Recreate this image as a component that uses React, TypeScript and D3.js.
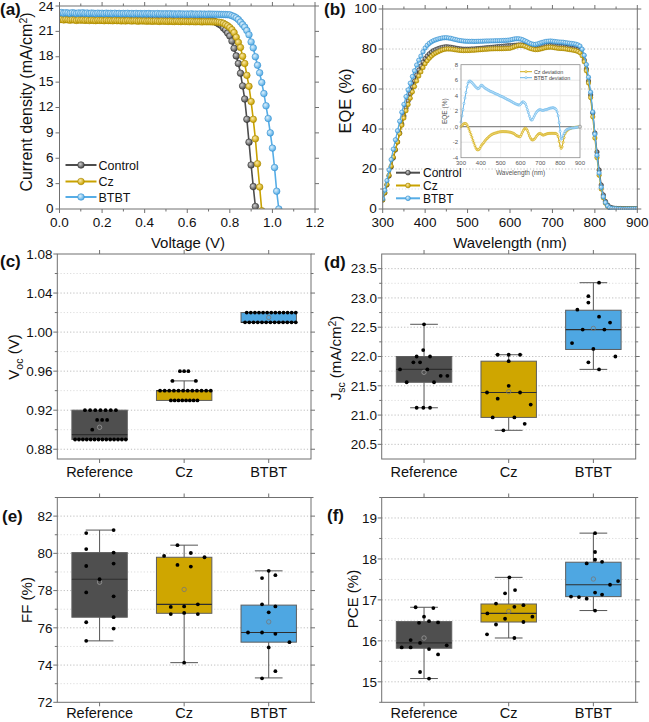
import React from "react";
import * as d3 from "d3";

const FONT = "'Liberation Sans', Arial, Helvetica, sans-serif";

// ---------------- (a) J–V curves (J in mA/cm², voltage grid step 0.01 V from 0) ----------------
const voltageStep = 0.01;
const jvControl = [
  22.58, 22.62, 22.55, 22.6, 22.57, 22.53, 22.6, 22.56, 22.52, 22.58,
  22.55, 22.5, 22.57, 22.54, 22.59, 22.52, 22.55, 22.5, 22.56, 22.53,
  22.5, 22.55, 22.52, 22.48, 22.54, 22.5, 22.53, 22.49, 22.55, 22.5,
  22.52, 22.47, 22.5, 22.54, 22.49, 22.51, 22.46, 22.52, 22.48, 22.5,
  22.47, 22.52, 22.48, 22.45, 22.5, 22.47, 22.5, 22.44, 22.49, 22.46,
  22.48, 22.45, 22.5, 22.46, 22.44, 22.48, 22.45, 22.47, 22.43, 22.46,
  22.45, 22.42, 22.46, 22.44, 22.41, 22.45, 22.43, 22.4, 22.42, 22.4,
  22.38, 22.33, 22.25, 22.15, 22.0, 21.85, 21.7, 21.4, 21.15, 20.8,
  20.45, 19.85, 19.0, 18.1, 17.2, 16.05, 14.55, 13.0, 10.6, 7.9,
  5.2, 2.65, 0.3,
];
const jvCz = [
  22.38, 22.42, 22.35, 22.4, 22.36, 22.33, 22.38, 22.34, 22.3, 22.36,
  22.32, 22.35, 22.3, 22.34, 22.28, 22.33, 22.3, 22.27, 22.32, 22.29,
  22.3, 22.26, 22.31, 22.27, 22.29, 22.25, 22.3, 22.26, 22.28, 22.24,
  22.27, 22.23, 22.28, 22.25, 22.22, 22.26, 22.24, 22.21, 22.25, 22.22,
  22.24, 22.2, 22.23, 22.21, 22.19, 22.23, 22.2, 22.18, 22.22, 22.19,
  22.2, 22.17, 22.21, 22.18, 22.16, 22.2, 22.17, 22.15, 22.19, 22.16,
  22.17, 22.14, 22.18, 22.15, 22.13, 22.16, 22.14, 22.12, 22.15, 22.13,
  22.14, 22.13, 22.12, 22.12, 22.1, 22.08, 22.03, 21.95, 21.8, 21.65,
  21.45, 21.2, 20.85, 20.3, 19.7, 19.1, 18.05, 17.2, 15.8, 14.5,
  12.7, 10.6, 8.3, 5.35, 2.6, -0.2,
];
const jvBTBT = [
  23.18, 23.22, 23.15, 23.2, 23.17, 23.13, 23.2, 23.16, 23.12, 23.18,
  23.15, 23.19, 23.13, 23.17, 23.11, 23.16, 23.14, 23.1, 23.15, 23.12,
  23.14, 23.1, 23.15, 23.11, 23.13, 23.09, 23.14, 23.1, 23.12, 23.08,
  23.12, 23.09, 23.13, 23.08, 23.11, 23.07, 23.12, 23.08, 23.1, 23.06,
  23.1, 23.07, 23.11, 23.06, 23.09, 23.05, 23.1, 23.06, 23.08, 23.05,
  23.08, 23.05, 23.09, 23.04, 23.07, 23.03, 23.08, 23.04, 23.06, 23.03,
  23.06, 23.03, 23.07, 23.02, 23.05, 23.02, 23.06, 23.02, 23.04, 23.01,
  23.04, 23.03, 23.03, 23.02, 23.02, 23.01, 23.0, 22.99, 22.98, 22.97,
  22.95, 22.85, 22.75, 22.6, 22.4, 22.1, 21.8, 21.5, 21.1, 20.6,
  19.75, 19.05, 18.0, 17.0, 16.1, 14.95, 13.65, 12.2, 10.7, 9.0,
  7.2, 4.9, 2.1, 0.0,
];

// ---------------- (b) EQE (%) every 5 nm from 300 to 900 nm ----------------
const wlStart = 300;
const wlStep = 5;
const eqeControl = [
  4.5, 8, 12, 16.5, 21, 25.5, 29.5, 33.5, 38, 42.5,
  46.5, 50.5, 54, 57.5, 61, 64, 67, 69.5, 71.5, 73.5,
  75.2, 76.5, 77.6, 78.5, 79.2, 79.7, 80.1, 80.5, 80.8, 81,
  81.1, 81, 80.9, 80.7, 80.5, 80.3, 80.1, 80, 79.9, 79.9,
  79.9, 79.9, 80, 80, 80.1, 80.2, 80.3, 80.4, 80.5, 80.6,
  80.7, 80.8, 80.9, 81, 81.1, 81.2, 81.3, 81.4, 81.5, 81.6,
  81.6, 81.7, 81.8, 81.9, 82, 82, 82, 81.9, 81.8, 81.7,
  81.6, 81.5, 81.4, 81.4, 81.5, 81.6, 81.7, 81.8, 81.8, 81.8,
  81.7, 81.6, 81.5, 81.4, 81.3, 81.2, 81, 80.8, 80.6, 80.4,
  80.2, 80, 79.6, 79, 77.5, 74.5, 70, 64, 57, 48,
  38, 28.5, 19.5, 12, 7, 3.8, 2, 1, 0.6, 0.4,
  0.3, 0.2, 0.2, 0.1, 0.1, 0.1, 0.1, 0.1, 0.1, 0.1,
  0.1,
];
// inset: EQE deviation from the control device (%)
const czDeviation = [
  0.0, 0.15, 0.3, 0.4, 0.43, 0.4, 0.25, 0.0, -0.3, -0.65,
  -1.0, -1.35, -1.75, -2.1, -2.45, -2.75, -2.95, -3.0, -2.95, -2.8,
  -2.55, -2.35, -2.2, -2.05, -1.85, -1.7, -1.55, -1.45, -1.3, -1.2,
  -1.1, -1.0, -0.95, -0.88, -0.85, -0.8, -0.78, -0.72, -0.7, -0.66,
  -0.65, -0.64, -0.63, -0.63, -0.64, -0.64, -0.65, -0.66, -0.68, -0.7,
  -0.72, -0.76, -0.82, -0.86, -0.95, -1.05, -1.15, -1.2, -1.25, -1.3,
  -1.25, -1.0, -0.7, -0.45, -0.25, -0.2, -0.3, -0.5, -0.85, -1.2,
  -1.45, -1.65, -1.72, -1.68, -1.6, -1.45, -1.25, -1.1, -0.95, -0.88,
  -0.88, -0.95, -1.05, -1.1, -1.05, -1.0, -0.95, -0.9, -0.88, -0.86,
  -0.86, -0.86, -0.85, -0.86, -0.86, -0.86, -0.88, -1.0, -1.3, -1.9,
  -2.5, -2.8, -2.6, -2.0, -1.4, -0.9, -0.65, -0.5, -0.4, -0.3,
  -0.25, -0.2, -0.15, -0.12, -0.1, -0.08, -0.06, -0.05, -0.03, -0.02,
  0,
];
const btbtDeviation = [
  0.6, 1.4, 2.2, 3.0, 3.7, 4.4, 5.1, 5.6, 5.85, 5.9,
  5.8, 5.7, 5.55, 5.4, 5.25, 5.1, 5.0, 4.9, 4.95, 5.1,
  5.3, 5.35, 5.25, 5.1, 5.0, 4.9, 4.85, 4.75, 4.7, 4.6,
  4.55, 4.5, 4.45, 4.38, 4.3, 4.25, 4.2, 4.15, 4.08, 4.0,
  3.95, 3.9, 3.85, 3.78, 3.7, 3.65, 3.55, 3.5, 3.45, 3.38,
  3.3, 3.25, 3.15, 3.1, 3.0, 2.95, 2.9, 2.85, 2.8, 2.8,
  2.9, 3.05, 3.2, 3.2, 3.1, 2.95, 2.6, 2.2, 1.8, 1.35,
  1.0, 0.85, 0.9, 1.15, 1.4, 1.65, 1.85, 2.0, 2.1, 2.2,
  2.2, 2.15, 2.1, 2.1, 2.15, 2.2, 2.2, 2.25, 2.3, 2.35,
  2.4, 2.4, 2.45, 2.45, 2.4, 2.35, 2.2, 1.9, 1.4, 0.5,
  -0.6, -1.6, -1.5, -1.15, -0.85, -0.6, -0.45, -0.35, -0.3, -0.25,
  -0.2, -0.2, -0.15, -0.15, -0.15, -0.12, -0.1, -0.08, -0.05, -0.03,
  0,
];
// Cz and BTBT EQE = control + measured deviation (what the inset plots)
const eqeCz = eqeControl.map((v, i) => v + czDeviation[i]);
const eqeBTBT = eqeControl.map((v, i) => v + btbtDeviation[i]);

const seriesNames = ["Control", "Cz", "BTBT"];
const categories = ["Reference", "Cz", "BTBT"];

// ---------------- box statistics: [low whisker, Q1, median, Q3, high whisker, mean] ----------------
const vocBoxes = [
  [0.89, 0.89, 0.895, 0.92, 0.92, 0.9025],
  [0.93, 0.93, 0.94, 0.94, 0.95, NaN],
  [1.01, 1.01, 1.01, 1.02, 1.02, 1.015],
];
// Voc points are stacked in rows: [category, value, count, row centre offset, row half width]
const vocRows = [
  [1, 0.92, 7, 0.01, 0.183],
  [1, 0.91, 3, 0.03, 0.059],
  [1, 0.9, 1, -0.087, 0],
  [1, 0.89, 14, 0.01, 0.3],
  [2, 0.96, 3, 0, 0.05],
  [2, 0.95, 2, 0, 0.138],
  [2, 0.94, 12, 0.015, 0.3],
  [2, 0.93, 8, 0, 0.157],
  [3, 1.02, 13, 0.03, 0.29],
  [3, 1.01, 13, 0.02, 0.3],
];

const jscBoxes = [
  [21.125, 21.56, 21.78, 22.0, 22.55, 21.73],
  [20.74, 20.96, 21.385, 21.92, 22.03, 21.4],
  [21.78, 22.12, 22.46, 22.79, 23.26, 22.48],
];
const jscReference = [
  [1.0, 22.55], [0.99, 22.11], [0.913, 22.0], [1.071, 22.0], [0.874, 21.9],
  [0.953, 21.9], [0.716, 21.78], [1.039, 21.78], [1.197, 21.67], [1.276, 21.67],
  [0.795, 21.56], [1.118, 21.56], [0.913, 21.125], [0.992, 21.125], [1.071, 21.125],
];
const jscCz = [
  [1.87, 22.03], [2.0, 22.03], [2.134, 22.03], [2.0, 21.92], [2.0, 21.5],
  [1.744, 21.385], [2.134, 21.385], [1.87, 21.28], [2.26, 21.18], [1.811, 20.96],
  [2.067, 20.96], [2.189, 20.85], [1.937, 20.74],
];
const jscBTBT = [
  [3.067, 23.26], [2.941, 23.03], [2.941, 22.92], [2.811, 22.8], [3.067, 22.68],
  [3.197, 22.58], [2.748, 22.23], [2.874, 22.46], [3.13, 22.46], [3.0, 22.13],
  [3.26, 22.0], [2.941, 21.9], [3.067, 21.78],
];

const ffBoxes = [
  [75.3, 76.57, 78.61, 80.04, 81.25, 78.45],
  [74.13, 76.78, 77.26, 79.79, 80.44, 78.06],
  [73.31, 75.23, 75.75, 77.22, 79.06, 76.32],
];
const ffReference = [
  [0.842, 81.09], [1.166, 81.25], [0.842, 80.23], [1.166, 80.04], [0.842, 79.32],
  [1.166, 79.45], [1.0, 78.61], [0.842, 77.9], [1.166, 77.69], [1.166, 76.57],
  [0.842, 76.3], [1.166, 75.96], [0.842, 75.3],
];
const ffCz = [
  [1.921, 80.44], [2.079, 80.02], [1.763, 79.86], [2.241, 79.79], [1.921, 79.38],
  [2.079, 79.29], [2.162, 77.26], [1.842, 77.12], [2.0, 77.15], [1.842, 76.74],
  [2.0, 76.8], [2.162, 76.74], [2.0, 74.13],
];
const ffBTBT = [
  [3.0, 79.06], [2.921, 78.67], [3.079, 78.83], [2.921, 77.26], [3.079, 77.15],
  [3.0, 76.83], [2.755, 75.75], [2.921, 75.75], [3.079, 75.68], [3.245, 75.23],
  [3.0, 74.95], [3.079, 73.67], [2.921, 73.29],
];

const pceBoxes = [
  [15.08, 15.82, 15.95, 16.47, 16.82, 16.07],
  [16.07, 16.46, 16.67, 16.9, 17.55, 16.72],
  [16.74, 17.08, 17.37, 17.92, 18.63, 17.51],
];
const pceReference = [
  [0.901, 16.82], [1.11, 16.8], [1.0, 16.59], [0.941, 16.44], [1.059, 16.48],
  [1.166, 16.45], [0.842, 16.02], [0.953, 15.95], [0.736, 15.84], [0.842, 15.84],
  [1.059, 15.8], [1.268, 15.89], [1.166, 15.67], [0.953, 15.24], [1.059, 15.08],
];
const pceCz = [
  [2.008, 17.55], [2.075, 17.24], [1.957, 17.16], [1.85, 16.91], [2.174, 16.87],
  [2.067, 16.83], [1.748, 16.67], [2.28, 16.59], [1.957, 16.54], [2.174, 16.46],
  [1.85, 16.4], [1.744, 16.16], [2.067, 16.07],
];
const pceBTBT = [
  [3.02, 18.63], [3.02, 18.17], [3.02, 17.98], [2.921, 17.89], [3.103, 17.93],
  [3.292, 17.46], [3.197, 17.37], [3.02, 17.18], [3.103, 17.13], [2.736, 17.08],
  [2.83, 17.07], [2.921, 17.03], [3.02, 16.74],
];

// ---------------- styling ----------------
const lineColors = ["#4d4d4d", "#c9a200", "#56ade6"];
const ballEdge = ["#2f2f2f", "#a58400", "#3690d0"];
const ballLight = ["#d0d0d0", "#fbe8a6", "#dcf0fc"];
const boxFill = ["#4f4f4f", "#cfa600", "#4ea7e2"];
const FRAME = "#707070";
const GRID_MAJOR = "#bdbdbd";
const GRID_MINOR = "#dcdcdc";
const TICK_FONT = 13.5;

function Ball({ cx, cy, r, i }: { cx: number; cy: number; r: number; i: number }) {
  return <circle cx={cx} cy={cy} r={r} fill={`url(#ball${i})`} stroke={ballEdge[i]} strokeWidth={0.6} />;
}

function Frame({ l, t, r, b }: { l: number; t: number; r: number; b: number }) {
  return <rect x={l} y={t} width={r - l} height={b - t} fill="none" stroke={FRAME} strokeWidth={1} />;
}

function VTicks({ ys, x, dir, len }: { ys: number[]; x: number; dir: number; len: number }) {
  return (
    <g stroke={FRAME} strokeWidth={1}>
      {ys.map((y, k) => (
        <line key={k} x1={x} x2={x + dir * len} y1={y} y2={y} />
      ))}
    </g>
  );
}
function HTicks({ xs, y, dir, len }: { xs: number[]; y: number; dir: number; len: number }) {
  return (
    <g stroke={FRAME} strokeWidth={1}>
      {xs.map((x, k) => (
        <line key={k} x1={x} x2={x} y1={y} y2={y + dir * len} />
      ))}
    </g>
  );
}

function Tag({ x, y, children }: { x: number; y: number; children: React.ReactNode }) {
  return (
    <text x={x} y={y} fontSize={17} fontWeight="bold" fill="#111">
      {children}
    </text>
  );
}

// ---------------- panel (a) ----------------
function PanelA() {
  const L = 59.5, R = 315, T = 6, B = 209;
  const x = d3.scaleLinear().domain([0, 1.2]).range([L, R]);
  const y = d3.scaleLinear().domain([0, 24]).range([B, T]);
  const series = [jvControl, jvCz, jvBTBT];
  const line = d3
    .line<number>()
    .x((_, i) => x(i * voltageStep))
    .y((d) => y(d));
  const yMajor = d3.range(0, 25, 3);
  const xMajor = d3.range(0, 7).map((k) => k * 0.2);
  const xMinor = d3.range(0, 6).map((k) => k * 0.2 + 0.1);
  const legY = [165, 181.5, 197];
  return (
    <g>
      <clipPath id="clipA">
        <rect x={L} y={T - 4} width={R - L} height={B - T + 4} />
      </clipPath>
      <g clipPath="url(#clipA)">
        {series.map((s, si) => (
          <g key={si}>
            <path d={line(s) || ""} fill="none" stroke={lineColors[si]} strokeWidth={1.6} />
            {s.map((v, i) => (
              <Ball key={i} cx={x(i * voltageStep)} cy={y(v)} r={3.3} i={si} />
            ))}
          </g>
        ))}
      </g>
      <Frame l={L} t={T} r={R} b={B} />
      <VTicks ys={yMajor.map(y)} x={L} dir={-1} len={4} />
      <VTicks ys={yMajor.map(y)} x={R} dir={1} len={4} />
      <HTicks xs={xMajor.map(x)} y={B} dir={1} len={4} />
      <HTicks xs={xMinor.map(x)} y={B} dir={1} len={2.5} />
      <HTicks xs={xMajor.map(x)} y={T} dir={-1} len={4} />
      <HTicks xs={xMinor.map(x)} y={T} dir={-1} len={2.5} />
      {yMajor.map((v) => (
        <text key={v} x={L - 6} y={v === 24 ? y(v) + 0.5 : y(v) - 1} dy="0.35em" textAnchor="end" fontSize={TICK_FONT} fill="#111">
          {v}
        </text>
      ))}
      {xMajor.map((v) => (
        <text key={v} x={x(v)} y={B + 17.5} textAnchor="middle" fontSize={TICK_FONT} fill="#111">
          {v.toFixed(1)}
        </text>
      ))}
      {seriesNames.map((n, si) => (
        <g key={n}>
          <line x1={65.5} x2={96.5} y1={legY[si]} y2={legY[si]} stroke={lineColors[si]} strokeWidth={2} />
          <Ball cx={81} cy={legY[si]} r={3.3} i={si} />
          <text x={98.5} y={legY[si]} dy="0.36em" fontSize={12.5} fill="#111">
            {n}
          </text>
        </g>
      ))}
      <text x={188} y={248} textAnchor="middle" fontSize={15} fill="#111">
        Voltage (V)
      </text>
      <text transform="translate(26,102) rotate(-90)" textAnchor="middle" dy="0.35em" fontSize={16} fill="#111">
        Current density (mA/cm
        <tspan dy={-5} fontSize={10.5}>
          2
        </tspan>
        <tspan dy={5}>)</tspan>
      </text>
      <Tag x={0} y={15}>(a)</Tag>
    </g>
  );
}

// ---------------- panel (b) ----------------
function PanelB() {
  const L = 382.7, R = 637.3, T = 9, B = 209;
  const x = d3.scaleLinear().domain([300, 900]).range([L, R]);
  const y = d3.scaleLinear().domain([0, 100]).range([B, T]);
  const wl = (i: number) => wlStart + i * wlStep;
  const series = [eqeControl, eqeCz, eqeBTBT];
  const line = d3
    .line<number>()
    .x((_, i) => x(wl(i)))
    .y((d) => y(d));
  const yMajor = d3.range(0, 101, 20);
  const yMinor = d3.range(10, 100, 20);
  const xMajor = d3.range(300, 901, 100);
  const xMinor = d3.range(350, 900, 100);
  const legY = [172.7, 185.5, 198.3];

  // inset
  const iL = 461, iR = 580, iT = 64.7, iB = 157.7;
  const xi = d3.scaleLinear().domain([300, 900]).range([iL, iR]);
  const yi = d3.scaleLinear().domain([-4, 8]).range([iB, iT]);
  const iline = d3
    .line<number>()
    .x((_, i) => xi(wl(i)))
    .y((d) => yi(d));
  const inset = [czDeviation, btbtDeviation];
  const insetNames = ["Cz deviation", "BTBT deviation"];
  const yiTicks = d3.range(-4, 9, 2);
  const xiTicks = d3.range(300, 901, 100);
  return (
    <g>
      {yMinor.map((v) => (
        <line key={v} x1={L} x2={R} y1={y(v)} y2={y(v)} stroke={GRID_MINOR} strokeDasharray="1.2 2" />
      ))}
      {yMajor.slice(1, -1).map((v) => (
        <line key={v} x1={L} x2={R} y1={y(v)} y2={y(v)} stroke={GRID_MAJOR} strokeDasharray="1.2 2" />
      ))}
      <clipPath id="clipB">
        <rect x={L} y={T} width={R - L} height={B - T + 1} />
      </clipPath>
      <g clipPath="url(#clipB)">
        {series.map((s, si) => (
          <g key={si}>
            <path d={line(s) || ""} fill="none" stroke={lineColors[si]} strokeWidth={1.3} />
            {s.map((v, i) => (
              <Ball key={i} cx={x(wl(i))} cy={y(v)} r={2.2} i={si} />
            ))}
          </g>
        ))}
      </g>
      <Frame l={L} t={T} r={R} b={B} />
      <VTicks ys={yMajor.map(y)} x={L} dir={-1} len={4} />
      <VTicks ys={yMinor.map(y)} x={L} dir={-1} len={2.5} />
      <VTicks ys={yMajor.map(y)} x={R} dir={1} len={4} />
      <VTicks ys={yMinor.map(y)} x={R} dir={1} len={2.5} />
      <HTicks xs={xMajor.map(x)} y={B} dir={1} len={4} />
      <HTicks xs={xMinor.map(x)} y={B} dir={1} len={2.5} />
      <HTicks xs={xMajor.map(x)} y={T} dir={-1} len={4} />
      <HTicks xs={xMinor.map(x)} y={T} dir={-1} len={2.5} />
      {yMajor.map((v) => (
        <text key={v} x={L - 6} y={y(v) - 1} dy="0.35em" textAnchor="end" fontSize={TICK_FONT} fill="#111">
          {v}
        </text>
      ))}
      {xMajor.map((v) => (
        <text key={v} x={x(v)} y={B + 17.5} textAnchor="middle" fontSize={TICK_FONT} fill="#111">
          {v}
        </text>
      ))}
      {seriesNames.map((n, si) => (
        <g key={n}>
          <line x1={396} x2={420} y1={legY[si]} y2={legY[si]} stroke={lineColors[si]} strokeWidth={2} />
          <Ball cx={408} cy={legY[si]} r={2.4} i={si} />
          <text x={423} y={legY[si]} dy="0.36em" fontSize={12} fill="#111">
            {n}
          </text>
        </g>
      ))}
      <text x={510} y={248} textAnchor="middle" fontSize={15} fill="#111">
        Wavelength (nm)
      </text>
      <text transform="translate(345,101) rotate(-90)" textAnchor="middle" dy="0.35em" fontSize={16.5} fill="#111">
        EQE (%)
      </text>
      <Tag x={324} y={15}>(b)</Tag>

      {/* inset */}
      <rect x={iL} y={iT} width={iR - iL} height={iB - iT} fill="#fff" />
      {yiTicks.slice(1, -1).map((v) => (
        <line key={v} x1={iL} x2={iR} y1={yi(v)} y2={yi(v)} stroke="#e2e2e2" strokeWidth={0.8} />
      ))}
      {xiTicks.slice(1, -1).map((v) => (
        <line key={v} x1={xi(v)} x2={xi(v)} y1={iT} y2={iB} stroke="#ececec" strokeWidth={0.8} />
      ))}
      <line x1={iL} x2={iR} y1={yi(0)} y2={yi(0)} stroke="#8a8a8a" strokeWidth={1.2} />
      {inset.map((s, k) => (
        <g key={k}>
          <path d={iline(s) || ""} fill="none" stroke={lineColors[k + 1]} strokeWidth={0.9} />
          {s.map((v, i) => (
            <circle key={i} cx={xi(wl(i))} cy={yi(v)} r={1.1} fill={ballLight[k + 1]} stroke={lineColors[k + 1]} strokeWidth={0.5} />
          ))}
        </g>
      ))}
      <circle cx={xi(900)} cy={yi(0)} r={1.6} fill="#fff" stroke="#888" strokeWidth={0.6} />
      <rect x={iL} y={iT} width={iR - iL} height={iB - iT} fill="none" stroke="#8c8c8c" strokeWidth={0.8} />
      {yiTicks.map((v) => (
        <text key={v} x={iL - 3} y={yi(v)} dy="0.35em" textAnchor="end" fontSize={6} fill="#555">
          {v}
        </text>
      ))}
      {xiTicks.map((v) => (
        <text key={v} x={xi(v)} y={iB + 7.5} textAnchor="middle" fontSize={6} fill="#555">
          {v}
        </text>
      ))}
      <text x={(iL + iR) / 2} y={iB + 17.5} textAnchor="middle" fontSize={6.5} fill="#555">
        Wavelength (nm)
      </text>
      <text transform={`translate(445,${(iT + iB) / 2}) rotate(-90)`} textAnchor="middle" dy="0.35em" fontSize={6.5} fill="#555">
        EQE (%)
      </text>
      {insetNames.map((n, k) => (
        <g key={n}>
          <line x1={520} x2={532} y1={71.7 + k * 6} y2={71.7 + k * 6} stroke={lineColors[k + 1]} strokeWidth={0.9} />
          <circle cx={526} cy={71.7 + k * 6} r={1.1} fill={ballLight[k + 1]} stroke={lineColors[k + 1]} strokeWidth={0.5} />
          <text x={534} y={71.7 + k * 6} dy="0.35em" fontSize={5.3} fill="#444">
            {n}
          </text>
        </g>
      ))}
    </g>
  );
}

// ---------------- box panels ----------------
type BoxPanelProps = {
  L: number;
  R: number;
  T: number;
  B: number;
  domain: [number, number];
  major: number[];
  minor: number[];
  fmt: (v: number) => string;
  boxes: number[][];
  points: number[][][];
  title: React.ReactNode;
  titleX: number;
  titleY: number;
  tag: string;
  tagX: number;
  tagY: number;
  labelEnd: number;
  catGap: number;
};

function BoxPanel(p: BoxPanelProps) {
  const x = d3.scaleLinear().domain([0.5, 3.5]).range([p.L, p.R]);
  const y = d3.scaleLinear().domain(p.domain).range([p.B, p.T]);
  const boxW = 0.655;
  const half = x(1 + boxW / 2) - x(1);
  const capHalf = half * 0.5;
  const cats = [1, 2, 3];
  const inside = (v: number) => v > p.domain[0] + 1e-9 && v < p.domain[1] - 1e-9;
  return (
    <g>
      {p.minor.filter(inside).map((v) => (
        <line key={"n" + v} x1={p.L} x2={p.R} y1={y(v)} y2={y(v)} stroke={GRID_MINOR} strokeDasharray="1.2 2" />
      ))}
      {p.major.filter(inside).map((v) => (
        <line key={"m" + v} x1={p.L} x2={p.R} y1={y(v)} y2={y(v)} stroke={GRID_MAJOR} strokeDasharray="1.2 2" />
      ))}
      {p.boxes.map(([lo, q1, med, q3, hi, mean], ci) => {
        const cx = x(cats[ci]);
        return (
          <g key={ci}>
            {hi > q3 && <line x1={cx} x2={cx} y1={y(q3)} y2={y(hi)} stroke="#555" strokeWidth={1} />}
            {lo < q1 && <line x1={cx} x2={cx} y1={y(q1)} y2={y(lo)} stroke="#555" strokeWidth={1} />}
            {hi > q3 && <line x1={cx - capHalf} x2={cx + capHalf} y1={y(hi)} y2={y(hi)} stroke="#555" strokeWidth={1} />}
            {lo < q1 && <line x1={cx - capHalf} x2={cx + capHalf} y1={y(lo)} y2={y(lo)} stroke="#555" strokeWidth={1} />}
            <rect x={cx - half} y={y(q3)} width={2 * half} height={y(q1) - y(q3)} fill={boxFill[ci]} stroke="#5e5e5e" strokeWidth={1} />
            <line x1={cx - half} x2={cx + half} y1={y(med)} y2={y(med)} stroke="#2e2e2e" strokeWidth={1.2} />
            {Number.isFinite(mean) && (
              <circle cx={cx} cy={y(mean)} r={2.2} fill="none" stroke={ci === 0 ? "#9a9a9a" : "#777"} strokeWidth={0.8} />
            )}
          </g>
        );
      })}
      {p.points.map((pts, ci) => (
        <g key={ci}>
          {pts.map(([px, v], k) => (
            <circle key={k} cx={x(px)} cy={y(v)} r={1.9} fill="#000" />
          ))}
        </g>
      ))}
      <Frame l={p.L} t={p.T} r={p.R} b={p.B} />
      <VTicks ys={p.major.map(y)} x={p.L} dir={-1} len={4} />
      <VTicks ys={p.minor.map(y)} x={p.L} dir={-1} len={2.5} />
      <VTicks ys={p.major.map(y)} x={p.R} dir={1} len={4} />
      <VTicks ys={p.minor.map(y)} x={p.R} dir={1} len={2.5} />
      <HTicks xs={cats.map(x)} y={p.B} dir={1} len={4} />
      <HTicks xs={cats.map(x)} y={p.T} dir={-1} len={4} />
      {p.major.map((v) => (
        <text key={v} x={p.labelEnd} y={y(v)} dy="0.35em" textAnchor="end" fontSize={TICK_FONT} fill="#111">
          {p.fmt(v)}
        </text>
      ))}
      {categories.map((c, ci) => (
        <text key={c} x={x(cats[ci])} y={p.B + p.catGap} textAnchor="middle" fontSize={14.5} fill="#111">
          {c}
        </text>
      ))}
      <text transform={`translate(${p.titleX},${p.titleY}) rotate(-90)`} textAnchor="middle" dy="0.35em" fontSize={15} fill="#111">
        {p.title}
      </text>
      <Tag x={p.tagX} y={p.tagY}>{p.tag}</Tag>
    </g>
  );
}

const vocPoints = categories.map((_, ci) =>
  vocRows
    .filter((r) => r[0] === ci + 1)
    .flatMap(([c, v, n, off, hw]) =>
      d3.range(n).map((i) => [c + off + (n > 1 ? -hw + (2 * hw * i) / (n - 1) : 0), v])
    )
);

export default function App() {
  return (
    <svg
      width={649}
      height={722}
      viewBox="0 0 649 722"
      style={{ position: "absolute", left: 0, top: 0, background: "#fff" }}
      fontFamily={FONT}
    >
      <defs>
        {lineColors.map((c, i) => (
          <radialGradient key={i} id={`ball${i}`} cx="0.38" cy="0.36" r="0.62">
            <stop offset="0" stopColor={ballLight[i]} />
            <stop offset="1" stopColor={c} />
          </radialGradient>
        ))}
      </defs>
      <rect x={0} y={0} width={649} height={722} fill="#fff" />
      <PanelA />
      <PanelB />
      <BoxPanel
        L={57.3} R={311} T={254} B={459}
        domain={[0.87, 1.08]}
        major={[0.88, 0.92, 0.96, 1.0, 1.04, 1.08]}
        minor={[0.9, 0.94, 0.98, 1.02, 1.06]}
        fmt={d3.format(".2f")}
        boxes={vocBoxes}
        points={vocPoints}
        title={
          <>
            V<tspan dy={3.5} fontSize={10.5}>oc</tspan>
            <tspan dy={-3.5}> (V)</tspan>
          </>
        }
        titleX={14} titleY={357}
        tag="(c)" tagX={0} tagY={267}
        labelEnd={52.5}
        catGap={18}
      />
      <BoxPanel
        L={381.7} R={635.7} T={254} B={459}
        domain={[20.25, 23.75]}
        major={[20.5, 21, 21.5, 22, 22.5, 23, 23.5]}
        minor={[20.75, 21.25, 21.75, 22.25, 22.75, 23.25]}
        fmt={d3.format(".1f")}
        boxes={jscBoxes}
        points={[jscReference, jscCz, jscBTBT]}
        title={
          <>
            J<tspan dy={3.5} fontSize={10.5}>sc</tspan>
            <tspan dy={-3.5}> (mA/cm</tspan>
            <tspan dy={-5} fontSize={10.5}>2</tspan>
            <tspan dy={5}>)</tspan>
          </>
        }
        titleX={336} titleY={358}
        tag="(d)" tagX={324} tagY={268}
        labelEnd={377}
        catGap={18}
      />
      <BoxPanel
        L={57.3} R={311} T={497.5} B={702.3}
        domain={[72, 83]}
        major={[72, 74, 76, 78, 80, 82]}
        minor={[73, 75, 77, 79, 81, 83]}
        fmt={d3.format("d")}
        boxes={ffBoxes}
        points={[ffReference, ffCz, ffBTBT]}
        title="FF (%)"
        titleX={27} titleY={600}
        tag="(e)" tagX={2} tagY={522}
        labelEnd={52.5}
        catGap={16}
      />
      <BoxPanel
        L={381.7} R={635.7} T={497.5} B={702.3}
        domain={[14.5, 19.5]}
        major={[15, 16, 17, 18, 19]}
        minor={[14.5, 15.5, 16.5, 17.5, 18.5, 19.5]}
        fmt={d3.format("d")}
        boxes={pceBoxes}
        points={[pceReference, pceCz, pceBTBT]}
        title="PCE (%)"
        titleX={353} titleY={599}
        tag="(f)" tagX={327} tagY={521}
        labelEnd={377}
        catGap={16}
      />
    </svg>
  );
}
